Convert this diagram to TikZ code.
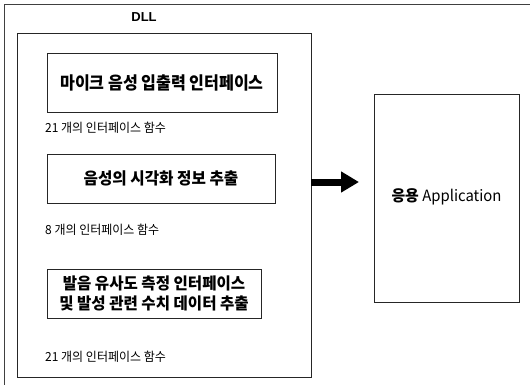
\documentclass[tikz,border=0pt]{standalone}
\usepackage{fontspec}
\setmainfont{Liberation Sans}
\newfontfamily\krbox{Noto Sans CJK KR}[FakeStretch=0.92]
\newfontfamily\krboxw{Noto Sans CJK KR}[FakeStretch=0.96]
\newfontfamily\krlab{Noto Sans CJK KR}[FakeStretch=0.96]
\usetikzlibrary{arrows.meta}
\begin{document}
\begin{tikzpicture}[x=1pt,y=-1pt,
  frameline/.style={draw=black!85,line width=0.9pt},
  boxnode/.style={draw=black!85,line width=0.8pt,rectangle,inner sep=0pt,align=center},
  labnode/.style={anchor=west,inner sep=0pt,font=\krlab\fontsize{12.5}{14}\selectfont}]
\useasboundingbox (0,0) rectangle (530,384);
\clip (0,0) rectangle (530,384);
\fill[white] (0,0) rectangle (530,384);
% outer frame (only top and left visible)
\draw[draw=black!75,line width=1.2pt] (4.5,4.5) rectangle (560,420);
% DLL box
\node[boxnode,minimum width=294pt,minimum height=344pt] (dll) at (164,205) {};
\node[inner sep=0pt,font=\bfseries\fontsize{13}{15}\selectfont] (dlltitle) at (144,17) {DLL};
% inner boxes
\node[boxnode,minimum width=230pt,minimum height=59pt,font=\krbox\bfseries\fontsize{17.5}{19}\selectfont] (b1) at (162,82.5) {마이크 음성 입출력 인터페이스};
\node[labnode] (l1) at (45,128) {21 개의 인터페이스 함수};
\node[boxnode,minimum width=228pt,minimum height=49pt,font=\krboxw\bfseries\fontsize{16.3}{19}\selectfont] (b2) at (161,178.5) {음성의 시각화 정보 추출};
\node[labnode] (l2) at (45,230) {8 개의 인터페이스 함수};
\node[boxnode,minimum width=214pt,minimum height=49pt,font=\krboxw\bfseries\fontsize{16.2}{19.5}\selectfont] (b3) at (154,293.5) {발음 유사도 측정 인터페이스\\및 발성 관련 수치 데이터 추출};
\node[labnode] (l3) at (45,357) {21 개의 인터페이스 함수};
% application box
\node[boxnode,minimum width=145pt,minimum height=208pt] (app) at (446.5,198) {};
\node[inner sep=0pt,font=\krboxw\fontsize{15.5}{17}\selectfont] (apptext) at (446.5,197) {\bfseries 응용 \mdseries Application};
% arrow
\coordinate (tip) at (359,182);
\draw[line width=7pt,-{Triangle[length=18pt,width=20pt]}] (dll.east |- tip) -- (tip);
\end{tikzpicture}
\end{document}
